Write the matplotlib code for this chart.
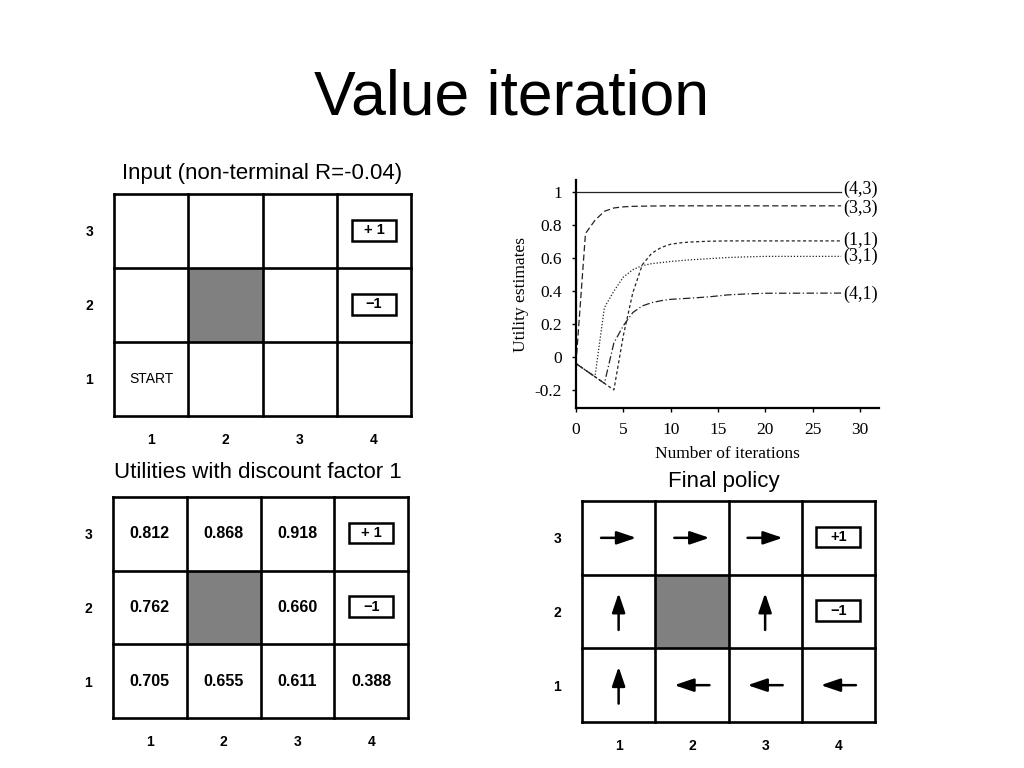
import matplotlib
matplotlib.use('Agg')
import matplotlib.pyplot as plt
from matplotlib.patches import Rectangle

# ---------------- data ----------------
col_labels = ['1', '2', '3', '4']
row_labels = ['1', '2', '3']
obstacle = (2, 2)          # (col, row)
terminal_plus = (4, 3)
terminal_minus = (4, 2)
start_cell = (1, 1)

utilities = {
    (1, 3): '0.812', (2, 3): '0.868', (3, 3): '0.918',
    (1, 2): '0.762', (3, 2): '0.660',
    (1, 1): '0.705', (2, 1): '0.655', (3, 1): '0.611', (4, 1): '0.388',
}

policy = {
    (1, 3): 'right', (2, 3): 'right', (3, 3): 'right',
    (1, 2): 'up', (3, 2): 'up',
    (1, 1): 'up', (2, 1): 'left', (3, 1): 'left', (4, 1): 'left',
}

# utility estimates vs iterations
it_43 = [0, 28]
u_43 = [1.0, 1.0]
it_33 = [0, 1, 2, 3, 4, 5, 6, 8, 10, 28]
u_33 = [-0.04, 0.75, 0.83, 0.885, 0.905, 0.912, 0.915, 0.917, 0.918, 0.918]
it_11 = [0, 1, 2, 3, 4, 5, 6, 7, 8, 9, 10, 11, 12, 14, 16, 28]
u_11 = [-0.04, -0.08, -0.12, -0.16, -0.20, 0.13, 0.39, 0.56, 0.63, 0.665, 0.685,
        0.693, 0.698, 0.703, 0.705, 0.705]
it_31 = [0, 1, 2, 3, 4, 5, 6, 7, 8, 10, 12, 14, 16, 18, 20, 28]
u_31 = [-0.04, -0.08, -0.12, 0.30, 0.40, 0.485, 0.53, 0.555, 0.567, 0.58, 0.59,
        0.597, 0.604, 0.608, 0.611, 0.611]
it_41 = [0, 1, 2, 3, 4, 5, 6, 7, 8, 9, 10, 12, 14, 16, 18, 20, 28]
u_41 = [-0.04, -0.08, -0.12, -0.16, 0.085, 0.19, 0.27, 0.31, 0.33, 0.342, 0.35,
        0.357, 0.365, 0.377, 0.383, 0.387, 0.388]
series_names = ['(4,3)', '(3,3)', '(1,1)', '(3,1)', '(4,1)']

x_ticks = [0, 5, 10, 15, 20, 25, 30]
y_ticks = [-0.2, 0, 0.2, 0.4, 0.6, 0.8, 1]
y_tick_labels = ['-0.2', '0', '0.2', '0.4', '0.6', '0.8', '1']

# ---------------- figure ----------------
W, H = 1024, 768
fig = plt.figure(figsize=(W / 100, H / 100), dpi=100)
SANS = 'Liberation Sans'
SERIF = 'Liberation Serif'


def px_axes(x0, y0, x1, y1):
    return fig.add_axes([x0 / W, 1 - y1 / H, (x1 - x0) / W, (y1 - y0) / H])


fig.text(512 / W, 1 - 98 / H, 'Value iteration', ha='center', va='center',
         fontsize=45, family=SANS)


def draw_grid(ax, box_plus_text='+ 1'):
    ax.set_xlim(0, 4)
    ax.set_ylim(0, 3)
    for s in ax.spines.values():
        s.set_visible(False)
    ax.add_patch(Rectangle((obstacle[0] - 1, obstacle[1] - 1), 1, 1,
                           facecolor='#808080', edgecolor='none'))
    for i in range(5):
        ax.plot([i, i], [0, 3], color='black', lw=1.9, clip_on=False,
                solid_capstyle='projecting')
    for j in range(4):
        ax.plot([0, 4], [j, j], color='black', lw=1.9, clip_on=False,
                solid_capstyle='projecting')
    ax.set_xticks([i + 0.5 for i in range(4)])
    ax.set_xticklabels(col_labels, fontweight='bold', fontsize=10, family=SANS)
    ax.set_yticks([j + 0.5 for j in range(3)])
    ax.set_yticklabels(row_labels, fontweight='bold', fontsize=10, family=SANS)
    ax.tick_params(length=0)
    ax.tick_params(axis='x', pad=12)
    ax.tick_params(axis='y', pad=15)
    bw, bh = 0.6, 0.28
    for (c, r), txt in [(terminal_plus, box_plus_text), (terminal_minus, '\u22121')]:
        cx, cy = c - 0.5, r - 0.5 + 0.01
        ax.add_patch(Rectangle((cx - bw / 2, cy - bh / 2), bw, bh, facecolor='white',
                               edgecolor='black', lw=1.8))
        ax.text(cx, cy, txt, ha='center', va='center', fontsize=10.5,
                fontweight='bold', family=SANS)


# Grid 1: input
ax1 = px_axes(114, 194, 411, 416)
draw_grid(ax1)
ax1.text(start_cell[0] - 0.5, start_cell[1] - 0.5, 'START', ha='center', va='center',
         fontsize=10, family=SANS)
fig.text(262 / W, 1 - 174 / H, 'Input (non-terminal R=-0.04)', ha='center',
         va='center', fontsize=16, family=SANS)

# Grid 2: utilities
ax2 = px_axes(113, 497, 408, 718)
draw_grid(ax2)
for (c, r), v in utilities.items():
    ax2.text(c - 0.5, r - 0.5, v, ha='center', va='center', fontsize=11.5,
             fontweight='bold', family=SANS)
fig.text(258 / W, 1 - 472 / H, 'Utilities with discount factor 1', ha='center',
         va='center', fontsize=16, family=SANS)

# Grid 3: policy
ax3 = px_axes(582, 501, 875, 722)
draw_grid(ax3, '+1')
dirs = {'right': (1, 0), 'left': (-1, 0), 'up': (0, 1), 'down': (0, -1)}
for (c, r), d in policy.items():
    dx, dy = dirs[d]
    cx, cy = c - 0.5, r - 0.5
    hx, hy = 0.24, 0.25
    ax3.annotate('', xy=(cx + dx * hx, cy + dy * hy), xytext=(cx - dx * hx, cy - dy * hy),
                 arrowprops=dict(arrowstyle='-|>,head_length=0.65,head_width=0.22',
                                 mutation_scale=18, lw=1.8, color='black',
                                 shrinkA=0, shrinkB=0))
fig.text(724 / W, 1 - 481 / H, 'Final policy', ha='center', va='center',
         fontsize=16, family=SANS)

# Line chart
axc = px_axes(576, 180, 879, 408)
styles = [
    dict(ls='-', lw=0.9),
    dict(ls=(0, (5, 2.5)), lw=0.9),
    dict(ls=(0, (2.5, 2)), lw=0.9),
    dict(ls=(0, (1, 1.5)), lw=0.9),
    dict(ls=(0, (6, 2, 1, 2)), lw=0.9),
]
data = [(it_43, u_43), (it_33, u_33), (it_11, u_11), (it_31, u_31), (it_41, u_41)]
label_y = [1.0, 0.918, 0.705, 0.611, 0.388]
label_dy = [0.02, -0.015, 0.004, 0.0, -0.01]
for (xs, ys), st, name, ly, ddy in zip(data, styles, series_names, label_y, label_dy):
    axc.plot(xs, ys, color='#222222', **st)
    axc.text(28.2, ly + ddy, name, ha='left', va='center', fontsize=13, family=SERIF)
axc.set_xlim(0, 32)
axc.set_ylim(-0.31, 1.075)
axc.set_xticks(x_ticks)
axc.set_xticklabels([str(t) for t in x_ticks], fontsize=12.5, family=SERIF)
axc.set_yticks(y_ticks)
axc.set_yticklabels(y_tick_labels, fontsize=12.5, family=SERIF)
axc.tick_params(direction='out', length=3, width=1)
axc.tick_params(axis='y', pad=7)
axc.tick_params(axis='x', pad=7)
axc.spines['top'].set_visible(False)
axc.spines['right'].set_visible(False)
axc.spines['left'].set_linewidth(1.6)
axc.spines['bottom'].set_linewidth(1.6)
axc.set_xlabel('Number of iterations', fontsize=12.5, family=SERIF, labelpad=6)
axc.set_ylabel('Utility estimates', fontsize=12.5, family=SERIF, labelpad=4)

fig.savefig('out.png', dpi=100)
